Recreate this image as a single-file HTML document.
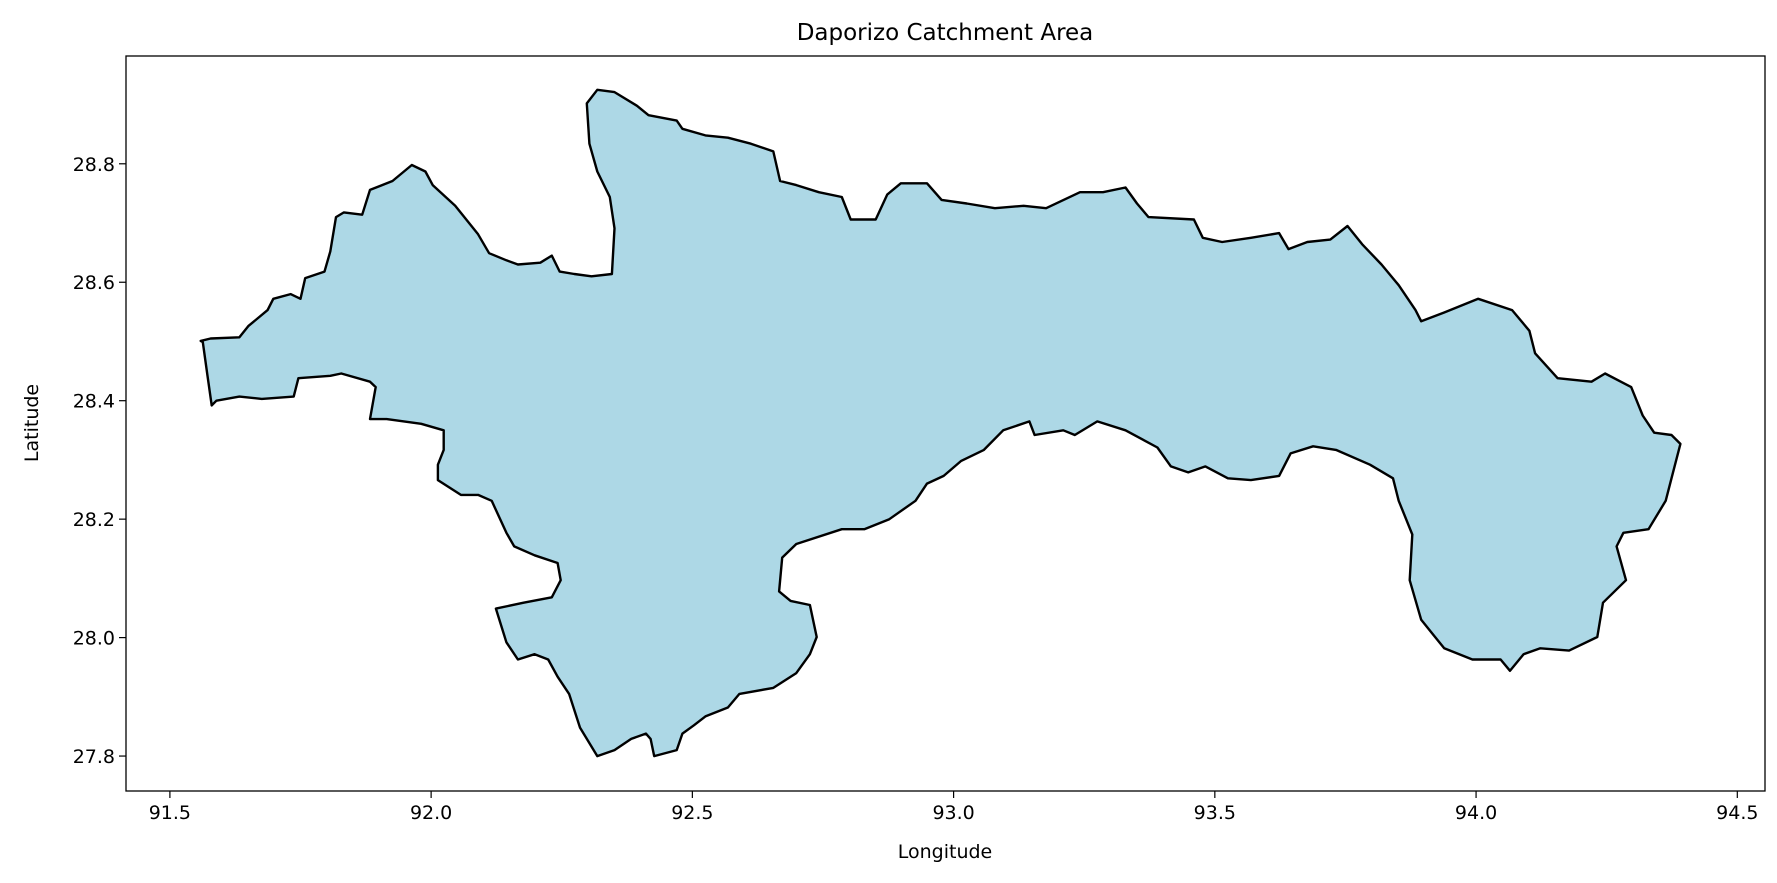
<!DOCTYPE html>
<html><head><meta charset="utf-8"><style>
html,body{margin:0;padding:0;background:#fff;}
svg{display:block;font-family:"DejaVu Sans","Liberation Sans",sans-serif;}
</style></head><body>
<svg id="chart" width="1777" height="883" viewBox="0 0 1777 883">
<text x="945" y="40" text-anchor="middle" font-size="23">Daporizo Catchment Area</text>
<g id="plot"></g>
<g id="axes"></g>
<text x="945" y="858" text-anchor="middle" font-size="19">Longitude</text>
<text x="0" y="0" transform="translate(38,423) rotate(-90)" text-anchor="middle" font-size="19">Latitude</text>
</svg>
<script>
const lonTicks = [91.5, 92.0, 92.5, 93.0, 93.5, 94.0, 94.5];
const lonTickLabels = ["91.5","92.0","92.5","93.0","93.5","94.0","94.5"];
const latTicks = [27.8, 28.0, 28.2, 28.4, 28.6, 28.8];
const latTickLabels = ["27.8","28.0","28.2","28.4","28.6","28.8"];
const boundaryLon = [91.559,91.578,91.633,91.650,91.687,91.698,91.731,91.750,91.759,91.796,91.807,91.818,91.833,91.868,91.883,91.926,91.963,91.989,92.003,92.046,92.090,92.111,92.144,92.166,92.209,92.231,92.246,92.274,92.307,92.346,92.351,92.342,92.318,92.303,92.298,92.318,92.351,92.394,92.416,92.470,92.481,92.525,92.568,92.612,92.655,92.668,92.699,92.742,92.786,92.803,92.851,92.873,92.899,92.949,92.977,93.025,93.079,93.134,93.177,93.242,93.286,93.329,93.351,93.373,93.460,93.477,93.514,93.569,93.623,93.641,93.677,93.721,93.754,93.782,93.819,93.852,93.884,93.895,93.939,94.004,94.069,94.102,94.113,94.156,94.221,94.247,94.297,94.319,94.341,94.374,94.391,94.374,94.363,94.330,94.282,94.269,94.287,94.243,94.232,94.178,94.123,94.091,94.065,94.047,93.993,93.939,93.895,93.873,93.878,93.852,93.841,93.797,93.732,93.688,93.645,93.623,93.569,93.525,93.482,93.449,93.416,93.390,93.329,93.275,93.232,93.210,93.155,93.145,93.095,93.058,93.014,92.981,92.949,92.927,92.877,92.829,92.786,92.699,92.672,92.666,92.688,92.725,92.738,92.725,92.699,92.655,92.590,92.568,92.525,92.503,92.481,92.470,92.427,92.420,92.411,92.383,92.351,92.318,92.285,92.264,92.242,92.224,92.198,92.166,92.144,92.124,92.177,92.231,92.248,92.242,92.198,92.159,92.144,92.116,92.090,92.057,92.013,92.013,92.024,92.024,91.981,91.915,91.883,91.894,91.883,91.828,91.807,91.746,91.737,91.676,91.633,91.589,91.580,91.572,91.563];
const boundaryLat = [28.501,28.505,28.507,28.526,28.553,28.572,28.580,28.572,28.607,28.618,28.652,28.710,28.718,28.714,28.756,28.771,28.798,28.787,28.764,28.729,28.681,28.649,28.637,28.630,28.633,28.645,28.618,28.614,28.610,28.614,28.691,28.744,28.787,28.834,28.902,28.925,28.921,28.898,28.882,28.873,28.859,28.848,28.844,28.834,28.821,28.771,28.764,28.752,28.744,28.706,28.706,28.748,28.767,28.767,28.739,28.733,28.725,28.729,28.725,28.752,28.752,28.760,28.733,28.710,28.706,28.675,28.668,28.675,28.683,28.656,28.668,28.672,28.695,28.664,28.630,28.595,28.553,28.534,28.549,28.572,28.553,28.518,28.480,28.438,28.432,28.446,28.423,28.375,28.346,28.342,28.327,28.269,28.231,28.183,28.177,28.154,28.097,28.059,28.001,27.978,27.982,27.972,27.944,27.963,27.963,27.982,28.030,28.097,28.174,28.231,28.269,28.292,28.317,28.323,28.311,28.273,28.266,28.269,28.289,28.279,28.289,28.321,28.350,28.365,28.342,28.350,28.342,28.365,28.350,28.317,28.298,28.273,28.260,28.231,28.200,28.183,28.183,28.158,28.135,28.078,28.062,28.055,28.001,27.972,27.940,27.915,27.905,27.882,27.867,27.852,27.838,27.810,27.800,27.829,27.838,27.829,27.810,27.800,27.848,27.905,27.934,27.963,27.972,27.963,27.992,28.049,28.059,28.068,28.097,28.126,28.139,28.154,28.177,28.231,28.241,28.241,28.266,28.292,28.317,28.350,28.361,28.369,28.369,28.423,28.432,28.446,28.442,28.438,28.407,28.403,28.407,28.400,28.392,28.442,28.499];

const NS = "http://www.w3.org/2000/svg";
const L = 126, R = 1765, T = 56, B = 791;
const lonMin = 91.416, lonMax = 94.553, latMin = 27.741, latMax = 28.982;
function xScale(v){ return L + (v - lonMin) / (lonMax - lonMin) * (R - L); }
function yScale(v){ return B - (v - latMin) / (latMax - latMin) * (B - T); }
function mk(tag, attrs, parent){ const e = document.createElementNS(NS, tag); for (const k in attrs) e.setAttribute(k, attrs[k]); parent.appendChild(e); return e; }

const plot = document.getElementById('plot');
const axes = document.getElementById('axes');
let d = '';
for (let i = 0; i < boundaryLon.length; i++) {
  d += (i ? 'L' : 'M') + xScale(boundaryLon[i]).toFixed(1) + ',' + yScale(boundaryLat[i]).toFixed(1);
}
d += 'Z';
const poly = mk('path', {d: d, fill: '#add8e6', stroke: '#000', 'stroke-width': 2.4, 'stroke-linejoin': 'round'}, plot);



const frame = mk('rect', {x: L, y: T, width: R - L, height: B - T, fill: 'none', stroke: '#000', 'stroke-width': 1.3}, axes);



lonTicks.forEach((v, i) => {
  const x = xScale(v);
  const t = mk('line', {x1: x, y1: B, x2: x, y2: B + 7, stroke: '#000', 'stroke-width': 1.2}, axes);
  
  
  const lb = mk('text', {x: x, y: B + 28, 'text-anchor': 'middle', 'font-size': 19}, axes);
  lb.textContent = lonTickLabels[i];
  
  
});
latTicks.forEach((v, i) => {
  const y = yScale(v);
  const t = mk('line', {x1: L - 7, y1: y, x2: L, y2: y, stroke: '#000', 'stroke-width': 1.2}, axes);
  
  
  const lb = mk('text', {x: L - 11, y: y + 7, 'text-anchor': 'end', 'font-size': 19}, axes);
  lb.textContent = latTickLabels[i];
  
  
});
</script>
</body></html>
